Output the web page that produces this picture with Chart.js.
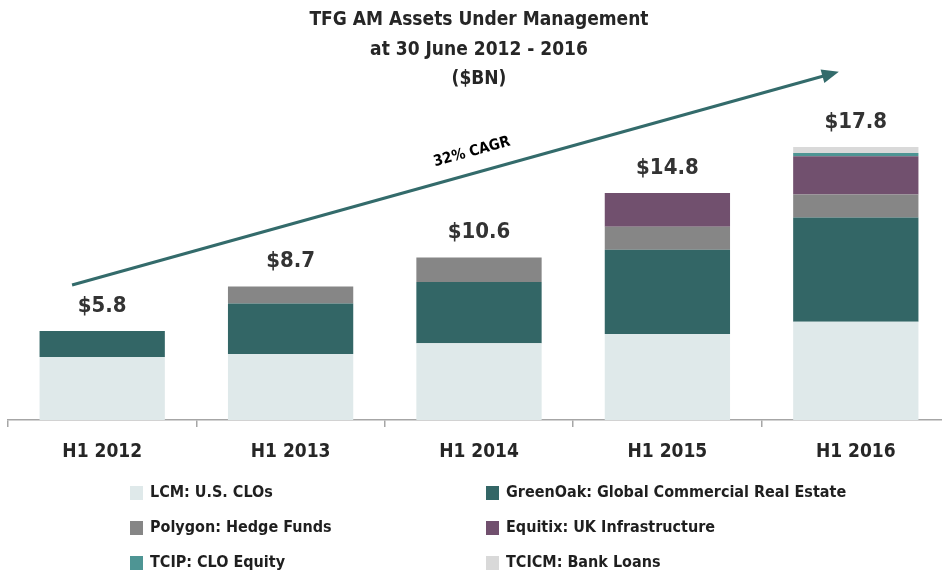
<!DOCTYPE html>
<html>
<head>
<meta charset="utf-8">
<script src="https://cdn.jsdelivr.net/npm/chart.js@4.4.0/dist/chart.umd.min.js"></script>
<style>
  html, body { margin: 0; padding: 0; background: #fff; overflow: hidden; }
  #wrap { position: relative; width: 950px; height: 574px; }
</style>
</head>
<body>
<div id="wrap"><canvas id="aumChart"></canvas></div>
<script>
// Categories
var periods = ["H1 2012", "H1 2013", "H1 2014", "H1 2015", "H1 2016"];

// Series ($BN)
var lcm      = [4.1, 4.3, 5.0, 5.6, 6.4];
var greenOak = [1.7, 3.3, 4.0, 5.5, 6.8];
var polygon  = [0, 1.1, 1.6, 1.5, 1.5];
var equitix  = [0, 0, 0, 2.2, 2.5];
var tcip     = [0, 0, 0, 0, 0.2];
var tcicm    = [0, 0, 0, 0, 0.4];

// Totals shown above the bars
var totals = [5.8, 8.7, 10.6, 14.8, 17.8];

var FONT = "'Liberation Sans Narrow', 'DejaVu Sans Condensed', sans-serif";

var aumData = {
    labels: periods,
    datasets: [
        { label: "LCM: U.S. CLOs", data: lcm, backgroundColor: "#dfe9ea" },
        { label: "GreenOak: Global Commercial Real Estate", data: greenOak, backgroundColor: "#336666" },
        { label: "Polygon: Hedge Funds", data: polygon, backgroundColor: "#868686" },
        { label: "Equitix: UK Infrastructure", data: equitix, backgroundColor: "#71506e" },
        { label: "TCIP: CLO Equity", data: tcip, backgroundColor: "#4e9594" },
        { label: "TCICM: Bank Loans", data: tcicm, backgroundColor: "#d9d9d9" }
    ]
};

// totals, growth arrow and the two-column legend
var extrasPlugin = {
    id: "extras",
    afterDraw: function (chart) {
        var ctx = chart.ctx;
        var x = chart.scales.x, y = chart.scales.y;

        ctx.save();
        ctx.fillStyle = "#333333";
        ctx.font = "bold 22px " + FONT;
        ctx.textAlign = "center";
        ctx.textBaseline = "middle";
        totals.forEach(function (t, i) {
            ctx.fillText("$" + t.toFixed(1), x.getPixelForValue(i), y.getPixelForValue(t) - 25);
        });

        // CAGR arrow
        var x0 = x.getPixelForValue(-0.16), y0 = y.getPixelForValue(8.8);
        var x1 = x.getPixelForValue(3.91), y1 = y.getPixelForValue(22.7);
        var ang = Math.atan2(y1 - y0, x1 - x0);
        ctx.strokeStyle = "#336b6b";
        ctx.fillStyle = "#336b6b";
        ctx.lineWidth = 3;
        ctx.beginPath();
        ctx.moveTo(x0, y0);
        ctx.lineTo(x1 - 14 * Math.cos(ang), y1 - 14 * Math.sin(ang));
        ctx.stroke();
        ctx.beginPath();
        ctx.moveTo(x1, y1);
        ctx.lineTo(x1 - 17 * Math.cos(ang) + 7 * Math.sin(ang), y1 - 17 * Math.sin(ang) - 7 * Math.cos(ang));
        ctx.lineTo(x1 - 17 * Math.cos(ang) - 7 * Math.sin(ang), y1 - 17 * Math.sin(ang) + 7 * Math.cos(ang));
        ctx.closePath();
        ctx.fill();

        ctx.translate(472, 152);
        ctx.rotate(ang);
        ctx.fillStyle = "#000";
        ctx.font = "bold 15px " + FONT;
        ctx.fillText("32% CAGR", 0, 0);
        ctx.restore();

        // legend
        ctx.save();
        ctx.font = "bold 16px " + FONT;
        ctx.textBaseline = "middle";
        ctx.textAlign = "left";
        chart.data.datasets.forEach(function (ds, i) {
            var col = i % 2, row = Math.floor(i / 2);
            var bx = col === 0 ? 130 : 486;
            var by = 493 + row * 35;
            ctx.fillStyle = ds.backgroundColor;
            ctx.fillRect(bx, by - 7, 13, 14);
            ctx.fillStyle = "#1f1f1f";
            ctx.fillText(ds.label, bx + 20, by);
        });
        ctx.restore();
    }
};

var aumContext = document.getElementById("aumChart").getContext("2d");
var aumChart = new Chart(aumContext, {
    type: 'bar',
    data: aumData,
    plugins: [extrasPlugin],
    options: {
        responsive: true,
        maintainAspectRatio: false,
        animation: false,
        layout: { padding: { left: 8, right: 0, top: 0, bottom: 114 } },
        datasets: { bar: { categoryPercentage: 1, barPercentage: 0.665 } },
        plugins: {
            legend: { display: false },
            tooltip: { enabled: false },
            title: {
                display: true,
                text: ["TFG AM Assets Under Management", "at 30 June 2012 - 2016", "($BN)"],
                color: "#262626",
                font: { family: FONT, size: 19, weight: "bold", lineHeight: 1.53 },
                padding: { top: 6, bottom: 20 }
            }
        },
        scales: {
            x: {
                stacked: true,
                afterFit: function (axis) { axis.height = 40; },
                grid: { drawOnChartArea: false, drawTicks: true, tickLength: 7, color: "#a6a6a6", lineWidth: 1.5 },
                border: { color: "#a6a6a6", width: 1.5 },
                ticks: { color: "#262626", padding: 14, font: { family: FONT, size: 19, weight: "bold" } }
            },
            y: {
                stacked: true,
                display: false,
                min: 0,
                max: 20
            }
        }
    }
});
</script>
</body>
</html>
